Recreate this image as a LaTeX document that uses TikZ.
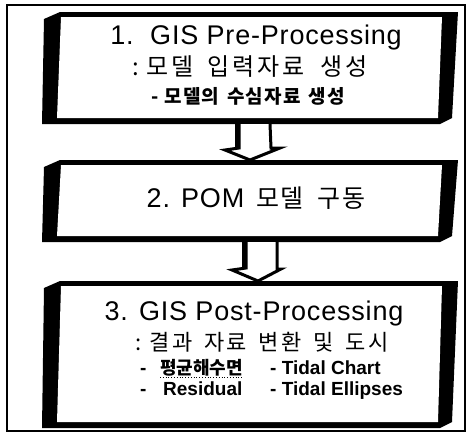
\documentclass[tikz,border=0pt]{standalone}
\usepackage{fontspec}
\setmainfont{Liberation Sans}
\newfontfamily\kr{Noto Sans CJK KR}
\usetikzlibrary{calc}
\tikzset{
  boxnode/.style={inner sep=0pt, outer sep=0pt, minimum width=416pt},
  txt/.style={inner sep=0pt, anchor=base},
  blockarrow/.style={fill=white, draw=black, line width=3pt, line join=miter},
  shade/.style={draw=black, line width=5pt, line cap=butt},
}
\newcommand\mybxframe[1]{%
  \fill[black] ([xshift=2pt,yshift=-7pt]#1.north west) -- ([xshift=18pt]#1.north west) -- (#1.north east)
     -- ([xshift=-6pt,yshift=6pt]#1.south east) -- ([xshift=-18pt]#1.south east) -- (#1.south west) -- cycle;
  \fill[white] ([xshift=19pt,yshift=-5pt]#1.north west) -- ([xshift=-16pt,yshift=-5pt]#1.north east)
     -- ([xshift=-20pt,yshift=6pt]#1.south east) -- ([xshift=15pt,yshift=6pt]#1.south west) -- cycle;}
\newcommand\bigfont{\fontsize{27}{27}\selectfont\addfontfeature{LetterSpace=3}}
\newcommand\smallb{\bfseries\fontsize{19}{19}\selectfont}
\begin{document}
\begin{tikzpicture}[x=1pt,y=-1pt]
\useasboundingbox (0,0) rectangle (469,434);
\fill[white] (0,0) rectangle (469,434);
\draw[line width=1.2pt] (7,5) rectangle (465,431);
% boxes
\node[boxnode, minimum height=112pt] (b1) at (250,68) {};
\node[boxnode, minimum height=82pt] (b2) at (250,201) {};
\node[boxnode, minimum height=147pt] (b3) at (250,354.5) {};
\mybxframe{b1}
\mybxframe{b2}
\mybxframe{b3}
% arrows
\draw[blockarrow] ([xshift=-11pt]b1.south) -- ++(0,24) -- ++(-14,2) -- (b2.north) -- ++(30,-12) -- ++(-9,0) -- ([xshift=20pt]b1.south);
\draw[shade] ([xshift=-13pt]b1.south) -- ++(0,24);
\draw[blockarrow] ([xshift=-4pt]b2.south) -- ++(0,26) -- ++(-14,2) -- ([xshift=8pt]b3.north) -- ++(23,-12) -- ++(-4,0) -- ([xshift=27pt]b2.south);
\draw[shade] ([xshift=-6pt]b2.south) -- ++(0,26);
% box 1 text
\node[txt] (t11) at (256,44) {\bigfont 1.\ \ GIS Pre-Processing};
\node[txt] (t12) at (250,75) {\kr\fontsize{24}{24}\selectfont\addfontfeature{LetterSpace=12}:\hspace{8pt}모델\hspace{14pt}입력자료\hspace{16pt}생성};
\node[txt] (t13) at (248,103) {\kr\bfseries\fontsize{19}{19}\selectfont\addfontfeature{LetterSpace=6}-\hspace{6pt}모델의\hspace{8pt}수심자료\hspace{8pt}생성};
% box 2 text
\node[txt] (t2) at (256,207) {\bigfont 2. POM\hspace{12pt}{\kr\fontsize{25}{25}\selectfont\addfontfeature{LetterSpace=6}모델\hspace{14pt}구동}};
% box 3 text
\node[txt] (t31) at (254,320) {\bigfont 3. GIS Post-Processing};
\node[txt] (t32) at (262,350) {\kr\fontsize{22}{22}\selectfont\addfontfeature{LetterSpace=10}:\hspace{8pt}결과\hspace{12pt}자료\hspace{12pt}변환\hspace{12pt}및\hspace{12pt}도시};
\node[txt, anchor=base west] (d331) at (140,374) {\smallb -};
\node[txt, anchor=base west] (t331) at (160,374) {\kr\bfseries\fontsize{18}{18}\selectfont 평균해수면};
\node[txt, anchor=base west] (t332) at (270,374) {\smallb - Tidal Chart};
\node[txt, anchor=base west] (d341) at (140,395) {\smallb -};
\node[txt, anchor=base west] (t341) at (163,395) {\smallb Residual};
\node[txt, anchor=base west] (t342) at (270,395) {\smallb - Tidal Ellipses};
\draw[line width=0.8pt, dotted] ([yshift=-3pt]t331.base west) -- ([yshift=-3pt]t331.base east);
\end{tikzpicture}
\end{document}
